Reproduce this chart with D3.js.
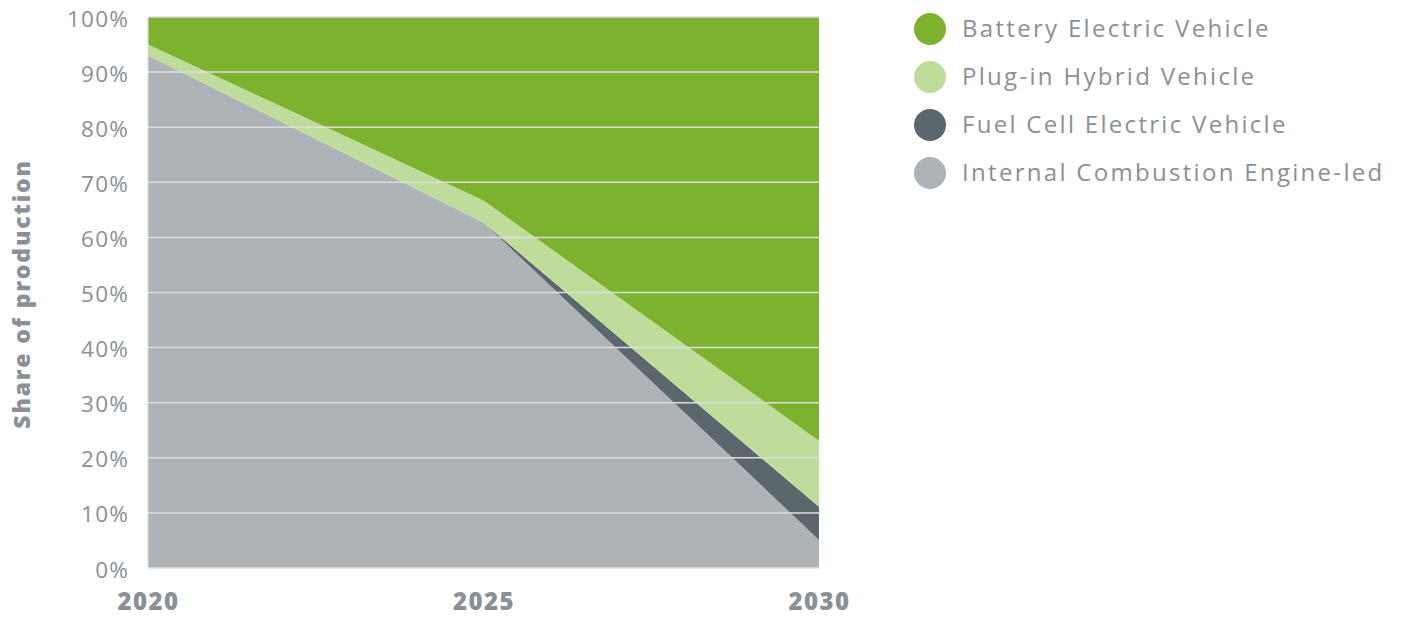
<!DOCTYPE html>
<html><head><meta charset="utf-8">
<script src="https://cdn.jsdelivr.net/npm/d3@7"></script>
<style>body{margin:0;background:#fff}svg{display:block}</style>
</head><body>
<svg id="c" width="1405" height="620"></svg>
<script>
const years = [2020, 2025, 2030];
const seriesNames = ["Internal Combustion Engine-led", "Fuel Cell Electric Vehicle", "Plug-in Hybrid Vehicle", "Battery Electric Vehicle"];
const ice  = [93, 62.7, 5.1];
const fcev = [0, 0, 6];
const phev = [2, 4, 12];
const bev  = [5, 33.3, 76.9];
const yTicks = [0,10,20,30,40,50,60,70,80,90,100];
const legendOrder = ["Battery Electric Vehicle", "Plug-in Hybrid Vehicle", "Fuel Cell Electric Vehicle", "Internal Combustion Engine-led"];
const colors = {"Battery Electric Vehicle":"#7db22e","Plug-in Hybrid Vehicle":"#c0dc9b","Fuel Cell Electric Vehicle":"#5b666d","Internal Combustion Engine-led":"#aeb3b7"};

const rows = years.map((y,i)=>({year:y,
  "Internal Combustion Engine-led":ice[i],
  "Fuel Cell Electric Vehicle":fcev[i],
  "Plug-in Hybrid Vehicle":phev[i],
  "Battery Electric Vehicle":bev[i]}));

const svg = d3.select("#c");
const L=148,R=819,T=17,B=568;
const x = d3.scaleLinear().domain([2020,2030]).range([L,R]);
const y = d3.scaleLinear().domain([0,100]).range([B,T]);
const font = "'Open Sans', sans-serif";
const txt = "#8a9095";

const stack = d3.stack().keys(seriesNames)(rows);
const area = d3.area().x(d=>x(d.data.year)).y0(d=>y(d[0])).y1(d=>y(d[1]));
svg.append("g").selectAll("path").data(stack).join("path")
  .attr("d",area).attr("fill",d=>colors[d.key]);

// gridlines
svg.append("g").selectAll("line").data(yTicks).join("line")
  .attr("x1",L).attr("x2",R).attr("y1",d=>y(d)).attr("y2",d=>y(d))
  .attr("stroke","#dcdedf").attr("stroke-width",1.5);
svg.append("line").attr("x1",L).attr("x2",L).attr("y1",T).attr("y2",B).attr("stroke","#dcdedf").attr("stroke-width",1);

// y axis labels
const yAxis = d3.axisLeft(y).tickValues(yTicks).tickFormat(d=>d+"%").tickSize(0).tickPadding(19);
const ga = svg.append("g").attr("transform",`translate(${L},0)`).call(yAxis);
ga.select(".domain").remove();
ga.selectAll("text").attr("font-family",font).attr("font-size",22.5).attr("letter-spacing",1.2)
  .attr("fill",txt).attr("dy","0.4em");

// x axis labels
const xAxis = d3.axisBottom(x).tickValues(years).tickFormat(d3.format("d")).tickSize(0).tickPadding(25);
const gx = svg.append("g").attr("transform",`translate(0,${B})`).call(xAxis);
gx.select(".domain").remove();
gx.selectAll("text").attr("font-family",font).attr("font-size",24).attr("font-weight",800)
  .attr("letter-spacing",1.5).attr("fill",txt);

// y title
svg.append("text").attr("transform","translate(30,294) rotate(-90)")
  .attr("text-anchor","middle").attr("font-family",font).attr("font-size",23).attr("font-weight",800)
  .attr("letter-spacing",1.8).attr("fill",txt).text("Share of production");

// legend
const lg = svg.append("g").selectAll("g").data(legendOrder).join("g")
  .attr("transform",(d,i)=>`translate(930,${29+i*48})`);
lg.append("circle").attr("r",16).attr("fill",d=>colors[d]);
lg.append("text").attr("x",32).attr("dy","0.35em").attr("font-family",font).attr("font-size",24)
  .attr("letter-spacing",2.3).attr("fill",txt).text(d=>d);
</script>
</body></html>
